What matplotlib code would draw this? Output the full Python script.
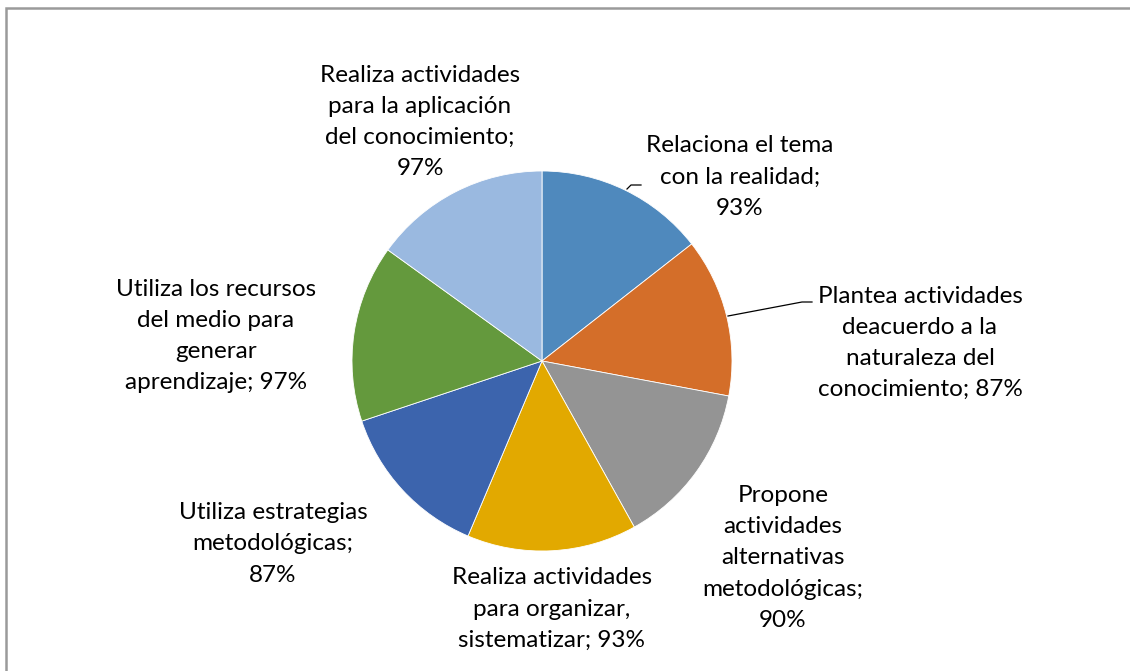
import matplotlib
matplotlib.use("Agg")
import matplotlib.pyplot as plt

# data
labels = [
    "Relaciona el tema\ncon la realidad;\n93%",
    "Plantea actividades\ndeacuerdo a la\nnaturaleza del\nconocimiento; 87%",
    "Propone\nactividades\nalternativas\nmetodológicas;\n90%",
    "Realiza actividades\npara organizar,\nsistematizar; 93%",
    "Utiliza estrategias\nmetodológicas;\n87%",
    "Utiliza los recursos\ndel medio para\ngenerar\naprendizaje; 97%",
    "Realiza actividades\npara la aplicación\ndel conocimiento;\n97%",
]
values = [93, 87, 90, 93, 87, 97, 97]
colors = ["#4F89BD", "#D46E29", "#949494", "#E2A900", "#3C64AD", "#64993D", "#9AB9E0"]

# label centres in pixel coords (x, y from top)
label_pos = [(740, 177), (920, 343), (783, 558), (552, 609),
             (273, 544), (216, 336), (420, 122)]

W, H = 1130, 671
fig = plt.figure(figsize=(W / 100, H / 100), dpi=100)
ax = fig.add_axes([0, 0, 1, 1])

cx, cy, r = 542, H - 361, 190
ax.pie(values, colors=colors, startangle=90, counterclock=False,
       center=(cx, cy), radius=r, frame=True,
       wedgeprops=dict(edgecolor="white", linewidth=0.6))
ax.set_xlim(0, W)
ax.set_ylim(0, H)
ax.set_aspect("equal")
ax.axis("off")

# chart frame (cut off at right and bottom)
ax.plot([5.5, 5.5, W + 5], [-5, H - 7.5, H - 7.5], color="#9a9a9a", lw=1.8,
        solid_capstyle="butt", solid_joinstyle="miter")

for txt, (x, y) in zip(labels, label_pos):
    ax.text(x, H - y, txt, ha="center", va="center", fontsize=17.5,
            family="Lato", linespacing=1.6, color="black")

# leader lines
ax.plot([627, 631, 641], [H - 189, H - 185, H - 185], color="black", lw=0.9)
ax.plot([728, 802, 812], [H - 316, H - 302, H - 302], color="black", lw=0.9)

fig.savefig("out.png", dpi=100)
